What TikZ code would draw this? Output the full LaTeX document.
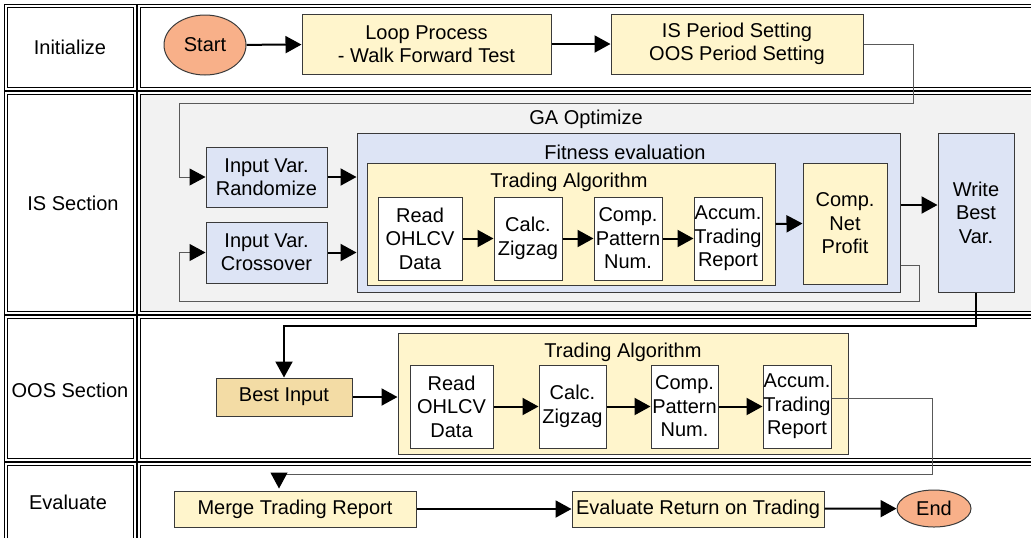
\documentclass[tikz,border=0pt]{standalone}
\usepackage{fontspec}
\setmainfont{Liberation Sans}
\usetikzlibrary{arrows.meta,shapes.geometric}

\definecolor{boxyellow}{HTML}{FFF5CC}
\definecolor{boxblue}{HTML}{DDE4F5}
\definecolor{boxtan}{HTML}{F3DCA5}
\definecolor{salmon}{HTML}{F8B089}
\definecolor{lanegrey}{HTML}{F2F2F2}
\definecolor{boxline}{HTML}{3A3A3A}

\tikzset{tip/.tip={Triangle[length=8pt,width=8.5pt]}}

\begin{document}
\begin{tikzpicture}[x=0.5pt,y=-0.5pt,
	font=\fontsize{10}{11.7}\selectfont,
	lane/.style={draw,double,double distance=0.7pt,line width=0.45pt},
	box/.style={draw=boxline,line width=0.5pt,rectangle,align=center,inner sep=0pt},
	term/.style={draw=boxline,line width=0.5pt,ellipse,fill=salmon,inner sep=0pt},
	flow/.style={-tip,line width=1pt},
	back/.style={draw=black!65,line width=0.5pt,-{tip[black]}}]

	\useasboundingbox (0,0) rectangle (1031,537);

	% swim lanes
	\draw[lane] (6,6) rectangle (135,89);
	\draw[lane] (139,6) rectangle (1045,89);
	\draw[lane] (6,93) rectangle (135,313);
	\draw[lane,fill=lanegrey] (139,93) rectangle (1045,313);
	\draw[lane] (6,317) rectangle (135,460);
	\draw[lane] (139,317) rectangle (1045,460);
	\draw[lane] (6,464) rectangle (135,545);
	\draw[lane] (139,464) rectangle (1045,545);

	\node (lInit) at (70,47) {Initialize};
	\node (lIS) at (73,203) {IS Section};
	\node (lOOS) at (70,390) {OOS Section};
	\node (lEval) at (68,502) {Evaluate};

	% initialize
	\node[term, minimum width=41pt, minimum height=30pt] (Start) at (205,45) {Start};
	\node[box, fill=boxyellow, minimum width=124.5pt, minimum height=30pt] (LoopProc) at (426.5,44) {Loop Process\\ - Walk Forward Test};
	\node[box, fill=boxyellow, minimum width=126pt, minimum height=30pt] (Period) at (737,44) {IS Period Setting\\OOS Period Setting};

	\draw[flow] (Start) -- (LoopProc);
	\draw[flow] (LoopProc) -- (Period);

	% IS section
	\node (GA) at (586,119) {GA Optimize};
	\node[box, fill=boxblue, minimum width=60.5pt, minimum height=30pt] (Randomize) at (266.5,177) {Input Var.\\Randomize};
	\node[box, fill=boxblue, minimum width=60.5pt, minimum height=30.5pt] (Crossover) at (266.5,252.5) {Input Var.\\Crossover};
	\node[box, fill=boxblue, minimum width=271.5pt, minimum height=79.5pt] (Fitness) at (628.5,212.5) {};
	\node (FitnessLbl) at (625,152) {Fitness evaluation};
	\node[box, fill=boxyellow, minimum width=204pt, minimum height=61pt] (TradeA) at (571,224) {};
	\node (TradeALbl) at (569,182) {Trading Algorithm};
	\node[box, fill=white, minimum width=42pt, minimum height=41.5pt] (ReadA) at (420,238.5) {Read\\OHLCV\\Data};
	\node[box, fill=white, minimum width=34pt, minimum height=41.5pt] (CalcA) at (528,238.5) {Calc.\\Zigzag};
	\node[box, fill=white, minimum width=34pt, minimum height=41.5pt] (CompA) at (628,238.5) {Comp.\\Pattern\\Num.};
	\node[box, fill=white, minimum width=34pt, minimum height=41.5pt] (AccumA) at (728,238.5) {Accum.\\Trading\\Report};
	\node[box, fill=boxyellow, minimum width=42pt, minimum height=60.5pt] (NetProfit) at (845,223.5) {Comp.\\Net\\Profit};
	\node[box, fill=boxblue, minimum width=38pt, minimum height=79.5pt] (WriteBest) at (976,212.5) {Write\\Best\\Var.};

	\draw[back] (Period.east) -| (913,103) -| (179,177) -- (Randomize.west);
	\draw[back] ([yshift=13.5pt]Fitness.south east) -| (919,301) -| (179,252.5) -- (Crossover.west);
	\draw[flow] (Randomize.east) -- (Randomize.east -| Fitness.west);
	\draw[flow] (Crossover.east) -- (Crossover.east -| Fitness.west);
	\draw[flow] (ReadA) -- (CalcA);
	\draw[flow] (CalcA) -- (CompA);
	\draw[flow] (CompA) -- (AccumA);
	\draw[flow] (TradeA.east) -- (NetProfit.west);
	\draw[flow] ([yshift=3.75pt]Fitness.east) -- ([yshift=3.75pt]WriteBest.west);

	% OOS section
	\node[box, fill=boxtan, minimum width=68pt, minimum height=19pt] (BestInput) at (284,397) {Best Input};
	\node[box, fill=boxyellow, minimum width=225pt, minimum height=60.5pt] (TradeB) at (623,393.5) {};
	\node (TradeBLbl) at (623,352) {Trading Algorithm};
	\node[box, fill=white, minimum width=41.5pt, minimum height=41.5pt] (ReadB) at (451.5,406.5) {Read\\OHLCV\\Data};
	\node[box, fill=white, minimum width=33.5pt, minimum height=41.5pt] (CalcB) at (572.5,406.5) {Calc.\\Zigzag};
	\node[box, fill=white, minimum width=33.5pt, minimum height=41.5pt] (CompB) at (684.5,406.5) {Comp.\\Pattern\\Num.};
	\node[box, fill=white, minimum width=34pt, minimum height=41.5pt] (AccumB) at (797,406.5) {Accum.\\Trading\\Report};

	\draw[flow] (WriteBest.south) -- ++(0,33) -| (BestInput.north);
	\draw[flow] (BestInput.east) -- (BestInput.east -| TradeB.west);
	\draw[flow] (ReadB) -- (CalcB);
	\draw[flow] (CalcB) -- (CompB);
	\draw[flow] (CompB) -- (AccumB);

	% evaluate
	\node[box, fill=boxyellow, minimum width=121pt, minimum height=18pt] (Merge) at (295,509) {Merge Trading Report};
	\node[box, fill=boxyellow, minimum width=126pt, minimum height=18pt] (EvalRet) at (698,509) {Evaluate Return on Trading};
	\node[term, minimum width=37pt, minimum height=18.5pt] (End) at (934,508.5) {End};

	\draw[back, shorten >=1pt] ([yshift=4.25pt]AccumB.east) -| (932,474) -| ([xshift=-8pt]Merge.north);
	\draw[flow] (Merge) -- (EvalRet);
	\draw[flow] (EvalRet) -- (End);

\end{tikzpicture}
\end{document}
